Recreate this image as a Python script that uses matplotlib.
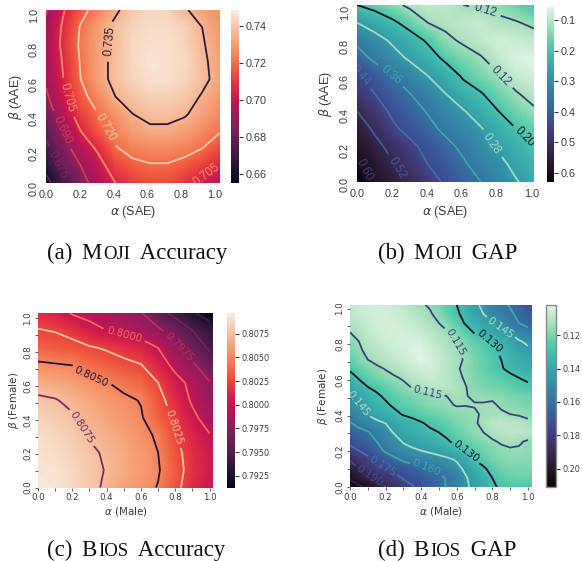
import numpy as np
import matplotlib
matplotlib.use("Agg")
import matplotlib.pyplot as plt
from matplotlib.transforms import ScaledTranslation
import seaborn as sns

W, H = 582, 561
axis_ticks = [0.0, 0.2, 0.4, 0.6, 0.8, 1.0]

# rows run from beta = 0 upward, columns from alpha = 0 rightward
moji_accuracy = [
 [.655,.672,.685,.696,.705,.711,.714,.714,.709,.703,.697],
 [.665,.680,.690,.700,.712,.717,.719,.719,.716,.711,.705],
 [.672,.685,.697,.707,.719,.724,.726,.726,.724,.720,.713],
 [.678,.690,.705,.716,.724,.730,.733,.733,.731,.726,.721],
 [.683,.697,.712,.720,.728,.735,.738,.738,.736,.731,.726],
 [.688,.702,.716,.726,.735,.739,.742,.742,.740,.734,.729],
 [.692,.705,.720,.731,.738,.743,.746,.746,.743,.738,.731],
 [.693,.706,.721,.731,.738,.744,.747,.746,.744,.737,.731],
 [.693,.708,.722,.731,.737,.744,.746,.746,.743,.736,.730],
 [.692,.707,.721,.730,.738,.743,.745,.745,.742,.735,.729],
 [.689,.704,.716,.725,.733,.741,.744,.743,.736,.731,.727]]
moji_gap = [
 [.630,.585,.550,.510,.470,.430,.390,.360,.320,.285,.250],
 [.610,.570,.525,.485,.440,.405,.370,.330,.300,.260,.225],
 [.580,.540,.500,.460,.415,.380,.345,.305,.270,.235,.200],
 [.555,.510,.455,.415,.380,.345,.315,.285,.240,.200,.170],
 [.520,.480,.425,.390,.355,.320,.285,.245,.200,.160,.130],
 [.480,.440,.395,.360,.325,.280,.235,.205,.160,.125,.095],
 [.450,.405,.360,.320,.280,.245,.190,.150,.125,.085,.070],
 [.390,.345,.305,.270,.235,.185,.150,.125,.090,.065,.060],
 [.345,.305,.270,.235,.190,.135,.110,.090,.075,.080,.090],
 [.280,.250,.215,.170,.120,.105,.090,.085,.105,.115,.135],
 [.200,.175,.140,.105,.090,.095,.120,.130,.140,.165,.200]]
bios_accuracy = [
 [.8095,.8094,.8088,.8080,.8072,.8063,.8057,.8049,.8030,.8015,.8003],
 [.8094,.8093,.8087,.8080,.8074,.8066,.8060,.8052,.8033,.8017,.8006],
 [.8092,.8090,.8085,.8079,.8072,.8066,.8059,.8050,.8031,.8016,.8005],
 [.8090,.8087,.8082,.8073,.8069,.8063,.8054,.8048,.8026,.8012,.8001],
 [.8085,.8082,.8077,.8069,.8064,.8058,.8052,.8036,.8021,.8005,.7990],
 [.8078,.8076,.8071,.8065,.8059,.8054,.8049,.8032,.8015,.7997,.7982],
 [.8068,.8066,.8062,.8056,.8051,.8044,.8038,.8025,.8008,.7994,.7976],
 [.8054,.8052,.8050,.8041,.8035,.8030,.8026,.8012,.7994,.7978,.7963],
 [.8036,.8034,.8031,.8027,.8023,.8018,.8012,.8000,.7979,.7965,.7947],
 [.8026,.8024,.8019,.8008,.8000,.7995,.7988,.7979,.7965,.7950,.7938],
 [.8016,.8010,.7998,.7993,.7989,.7984,.7976,.7958,.7944,.7928,.7913]]
bios_gap = [
 [.210,.207,.202,.197,.190,.184,.180,.176,.171,.166,.163,.159,.154,.147,.142,.137,.131,.129,.128,.128,.128],
 [.204,.198,.193,.188,.184,.179,.174,.171,.168,.165,.162,.159,.154,.146,.141,.136,.130,.125,.123,.122,.122],
 [.197,.190,.183,.179,.176,.172,.169,.166,.162,.160,.157,.153,.148,.143,.137,.132,.126,.122,.120,.120,.120],
 [.189,.183,.178,.173,.168,.163,.158,.155,.153,.151,.149,.147,.144,.138,.130,.125,.121,.119,.118,.118,.118],
 [.179,.175,.171,.165,.158,.153,.149,.147,.145,.143,.141,.138,.134,.130,.125,.122,.119,.117,.116,.116,.117],
 [.172,.168,.165,.160,.154,.149,.144,.141,.139,.137,.134,.131,.127,.124,.121,.118,.116,.114,.113,.114,.116],
 [.166,.164,.161,.155,.149,.144,.140,.137,.134,.132,.130,.127,.123,.120,.117,.115,.112,.110,.109,.109,.110],
 [.161,.156,.152,.148,.145,.141,.137,.134,.131,.128,.126,.123,.120,.118,.116,.113,.110,.109,.109,.110,.113],
 [.155,.150,.144,.140,.137,.133,.129,.127,.125,.123,.121,.119,.118,.117,.116,.114,.113,.113,.115,.116,.117],
 [.150,.145,.140,.135,.132,.128,.125,.123,.120,.118,.117,.116,.1145,.1148,.1146,.1142,.113,.117,.118,.119,.120],
 [.147,.141,.136,.132,.128,.125,.122,.120,.118,.117,.116,.1148,.113,.1147,.116,.117,.1175,.118,.120,.121,.122],
 [.141,.135,.130,.127,.124,.120,.117,.1145,.112,.110,.109,.110,.112,.1147,.118,.120,.121,.122,.124,.126,.128],
 [.135,.129,.125,.121,.118,.116,.114,.110,.108,.107,.108,.110,.113,.116,.119,.121,.123,.125,.127,.130,.132],
 [.128,.124,.120,.117,.1145,.112,.109,.107,.105,.105,.107,.110,.114,.117,.120,.123,.126,.129,.133,.135,.137],
 [.124,.119,.115,.112,.110,.108,.106,.104,.102,.104,.107,.110,.113,.116,.120,.123,.126,.130,.134,.137,.139],
 [.121,.117,.112,.110,.108,.106,.105,.103,.103,.105,.108,.111,.114,.118,.122,.125,.128,.132,.136,.140,.143],
 [.118,.115,.110,.108,.106,.105,.104,.104,.104,.107,.110,.112,.1155,.120,.124,.127,.131,.135,.140,.144,.147],
 [.115,.111,.108,.106,.105,.104,.105,.106,.107,.109,.112,.1145,.119,.125,.131,.135,.139,.143,.146,.151,.155],
 [.112,.109,.107,.105,.105,.105,.106,.107,.109,.112,.115,.120,.125,.131,.135,.140,.144,.149,.155,.160,.164],
 [.110,.107,.106,.105,.105,.106,.107,.109,.112,.114,.118,.123,.128,.134,.140,.145,.150,.154,.158,.163,.168],
 [.109,.106,.105,.105,.105,.107,.109,.112,.114,.116,.120,.125,.130,.136,.143,.147,.152,.157,.161,.166,.172]]

moji_acc_levels = [.660,.675,.690,.705,.720,.735]
moji_gap_levels = [.12,.20,.28,.36,.44,.52,.60]
bios_acc_levels = [.7925,.7950,.7975,.8000,.8025,.8050,.8075]
bios_gap_levels = [.115,.130,.145,.160,.175,.190,.205]

captions = [("(a) ", "M", "OJI", " Accuracy"), ("(b) ", "M", "OJI", " GAP"),
            ("(c) ", "B", "IOS", " Accuracy"), ("(d) ", "B", "IOS", " GAP")]

rocket = sns.color_palette("rocket", as_cmap=True)
mako_r = sns.color_palette("mako_r", as_cmap=True)
ROCKET_LINES = {.7925:'#3a1c4a',.7950:'#7a1f5c',.7975:'#c8284f',.8000:'#f3704c',.8025:'#f9c39b',.8050:'#1f1433',.8075:'#7a2a63',
                .660:'#6a1f5e',.675:'#8a1d5c',.690:'#d93a4c',.705:'#f58c63',.720:'#f8c9a8',.735:'#2a1a3e'}
MAKO_LINES = ['#3d3c78','#141424','#a0dcb8','#38a8a6','#3a72a0','#3b5f9c','#40407f']
GAP_D_LINES = ['#3f3f80','#14141f','#a8dfc0','#3aa9a8','#3a78a5','#3a4f94','#2d2450']
TEXT = '#3c3c3c'

plt.rcParams['mathtext.fontset'] = 'dejavusans'
fig = plt.figure(figsize=(W/100, H/100), dpi=100, facecolor='white')


def box(l, t, r, b):
    return [l/W, 1-b/H, (r-l)/W, (b-t)/H]


def panel(Z, cmap, rng, rect, crect, levels, line_cols, fmt, lab_pos, xl, yl, cb_ticks, cb_fmt,
          font, tick_fs, cb_fs, lab_fs, clab_fs, invert, xmax, ticked, outline, ylabx, xlaby,
          xscale, yscale, yshift, cb_pad):
    Z = np.array(Z)
    n = Z.shape[0]
    half = 0.5/(n-1)
    grid = np.linspace(0, 1, n)
    ax = fig.add_axes(box(*rect))
    im = ax.imshow(Z, origin='lower', extent=(-half, 1+half, -half, 1+half), aspect='auto',
                   cmap=cmap, vmin=rng[0], vmax=rng[1], interpolation='bilinear')
    cs = ax.contour(grid, grid, Z, levels=levels, colors=line_cols, linewidths=1.3)
    ax.clabel(cs, fmt=fmt, manual=lab_pos, fontsize=clab_fs, inline=True, inline_spacing=2)
    for t in cs.labelTexts:
        t.set_fontfamily(font)
    ax.set_xlim(0, xmax); ax.set_ylim(0, 1.0)
    ax.set_xticks([v*xscale for v in axis_ticks])
    ax.set_yticks([v*yscale for v in axis_ticks])
    ax.set_xticklabels([f'{v:.1f}' for v in axis_ticks], fontsize=tick_fs, family=font, color=TEXT)
    ax.set_yticklabels([f'{v:.1f}' for v in axis_ticks], fontsize=tick_fs, family=font, color=TEXT,
                       rotation=90, va='center')
    if ticked:
        ax.set_xticks([v*xscale for v in (.1, .3, .5, .7, .9)], minor=True)
        ax.set_yticks([v*yscale for v in (.1, .3, .5, .7, .9)], minor=True)
        ax.tick_params(which='both', length=2.5, width=0.6, color='#444444', pad=1.5)
    else:
        ax.tick_params(length=0, pad=5)
    if yshift:
        off = ScaledTranslation(0, -yshift/100, fig.dpi_scale_trans)
        for lab in ax.get_yticklabels():
            lab.set_transform(lab.get_transform() + off)
    for s in ax.spines.values():
        s.set_visible(False)
    fig.text(ylabx/W, 1-(rect[1]+rect[3])/2/H, yl, rotation=90, ha='center', va='center',
             fontsize=lab_fs, family=font, color=TEXT)
    fig.text((rect[0]+rect[2])/2/W, 1-xlaby/H, xl, ha='center', va='center',
             fontsize=lab_fs, family=font, color=TEXT)
    cax = fig.add_axes(box(*crect))
    cb = fig.colorbar(im, cax=cax)
    cb.set_ticks(cb_ticks)
    cb.set_ticklabels([cb_fmt % v for v in cb_ticks])
    for t in cax.get_yticklabels():
        t.set_fontsize(cb_fs); t.set_family(font); t.set_color(TEXT)
    cax.tick_params(length=3, width=0.8, color='#333333', pad=cb_pad)
    if invert:
        cax.invert_yaxis()
    cb.outline.set_visible(outline)
    if outline:
        cb.outline.set_edgecolor('#888888'); cb.outline.set_linewidth(1.0)


panel(moji_accuracy, rocket, (.6551,.7486), (46,10,219.5,183), (231,10,239,183),
      moji_acc_levels, [ROCKET_LINES[v] for v in moji_acc_levels], '%.3f',
      [(.375,.82),(.115,.49),(.32,.31),(.07,.295),(.07,.105),(.905,.075)],
      r'$\alpha$ (SAE)', r'$\beta$ (AAE)', [.66,.68,.70,.72,.74], '%.2f',
      'Liberation Sans', 7.8, 7.8, 9, 8.5, False, 1.0, False, False, 15, 212,
      .975, 1.0, 5, 2)
panel(moji_gap, mako_r, (.057,.63), (357,5,534,182), (547,7,554,182),
      moji_gap_levels, MAKO_LINES, '%.2f',
      [(.815,.60),(.72,.96),(.947,.25),(.77,.22),(.19,.6),(.01,.59),(.23,.08),(.05,.07)],
      r'$\alpha$ (SAE)', r'$\beta$ (AAE)', [.1,.2,.3,.4,.5,.6], '%.1f',
      'Liberation Sans', 7.8, 7.8, 9, 8.5, True, 1.0, False, False, 326, 212,
      .985, .977, 3, 2)
panel(bios_accuracy, rocket, (.7912,.8097), (38,313,213,487.5), (227,313,235,488),
      bios_acc_levels, [ROCKET_LINES[v] for v in bios_acc_levels], '%.4f',
      [(.27,.35),(.31,.63),(.80,.35),(.505,.885),(.825,.81)],
      r'$\alpha$ (Male)', r'$\beta$ (Female)', [.7925,.7950,.7975,.8000,.8025,.8050,.8075], '%.4f',
      'DejaVu Sans', 6.2, 5.9, 7.5, 7.5, False, 1.02, True, False, 14, 512,
      1.0, .97, 0, 1.5)
panel(bios_gap, mako_r, (.1019,.211), (350,305,532,487), (546,305,556,487),
      bios_gap_levels, GAP_D_LINES, '%.3f',
      [(.44,.54),(.60,.80),(.79,.81),(.65,.19),(.85,.88),(.05,.46),(.43,.10),(.19,.13),(.11,.06)],
      r'$\alpha$ (Male)', r'$\beta$ (Female)', [.12,.14,.16,.18,.20], '%.2f',
      'DejaVu Sans', 6.2, 5.9, 7.5, 7.5, True, 1.023, True, True, 323, 512,
      1.0, .98, 0, 1.5)

# captions: small capitals assembled from real text pieces
cap_xy = [(47, 252), (378, 252), (47, 549), (378, 549)]
cap_fs = 16.5
rend = fig.canvas.get_renderer()
for (a, b, c, d), (x0, y0) in zip(captions, cap_xy):
    x = x0
    for piece, fs, extra in ((a, cap_fs, 3), (b, cap_fs, 1.5), (c, cap_fs*0.82, 4), (d, cap_fs, 0)):
        t = fig.text(x/W, 1-(y0+7)/H, piece.replace(' ', '\u00a0'), fontsize=fs, family='Liberation Serif',
                     color='#111111', ha='left', va='baseline')
        x += t.get_window_extent(rend).width + extra

fig.savefig('out.png', dpi=100)
